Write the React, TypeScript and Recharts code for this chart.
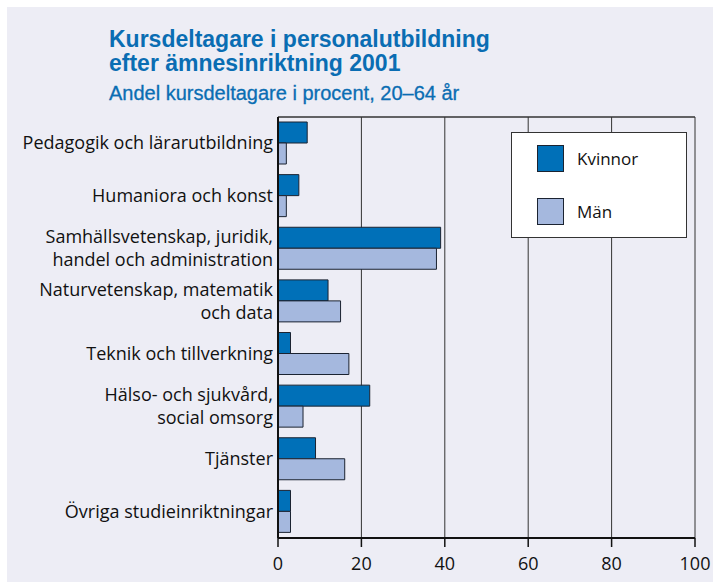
import React from 'react';
import { BarChart, Bar, XAxis, YAxis, CartesianGrid, Legend } from 'recharts';

const categories = [
  'Pedagogik och lärarutbildning',
  'Humaniora och konst',
  'Samhällsvetenskap, juridik,\nhandel och administration',
  'Naturvetenskap, matematik\noch data',
  'Teknik och tillverkning',
  'Hälso- och sjukvård,\nsocial omsorg',
  'Tjänster',
  'Övriga studieinriktningar',
];

const kvinnor = [7, 5, 39, 12, 3, 22, 9, 3];
const man = [2, 2, 38, 15, 17, 6, 16, 3];

const xTicks = [0, 20, 40, 60, 80, 100];

const data = categories.map((name, i) => ({ name, kvinnor: kvinnor[i], man: man[i] }));

const BLUE = '#0070b8';
const LIGHT = '#a5b8de';
const EDGE = '#1b2331';
const BG = '#ededf5';
const TITLE = '#0a6db3';
const LABEL_FONT = '"Open Sans", "Noto Sans", sans-serif';

const CategoryTick = (props: any) => {
  const { x, y, payload } = props;
  const lines = String(payload.value).split('\n');
  const lh = 23;
  return (
    <text x={x} y={y} textAnchor="end" fill="#111" fontSize={18} fontFamily={LABEL_FONT}>
      {lines.map((line, i) => (
        <tspan key={i} x={x} y={y + (i - (lines.length - 1) / 2) * lh + 6}>
          {line}
        </tspan>
      ))}
    </text>
  );
};

const LegendBox = (props: any) => {
  const items = props.payload || [];
  return (
    <div
      style={{
        width: 174,
        height: 104,
        background: '#fff',
        border: '1px solid #333',
        position: 'relative',
        fontFamily: LABEL_FONT,
        fontSize: 17,
        color: '#111',
      }}
    >
      {items.map((it: any, i: number) => (
        <div
          key={it.value}
          style={{ position: 'absolute', left: 25, top: 12 + i * 53, display: 'flex', alignItems: 'center' }}
        >
          <div style={{ width: 25, height: 25, background: it.color, border: `1px solid ${EDGE}` }} />
          <span style={{ marginLeft: 13 }}>{it.value}</span>
        </div>
      ))}
    </div>
  );
};

export default function App() {
  return (
    <div
      style={{
        position: 'fixed',
        left: 7,
        top: 7,
        width: 706,
        height: 575,
        background: BG,
        overflow: 'hidden',
      }}
    >
      <div style={{ position: 'absolute', left: -7, top: -7, width: 713, height: 582 }}>
        <div
          style={{
            position: 'absolute',
            left: 109,
            top: 27,
            color: TITLE,
            fontFamily: '"Liberation Sans", Arial, sans-serif',
            fontWeight: 700,
            fontSize: 23,
            lineHeight: '24px',
            whiteSpace: 'nowrap',
          }}
        >
          <div>Kursdeltagare i personalutbildning</div>
          <div>efter ämnesinriktning 2001</div>
        </div>
        <div
          style={{
            position: 'absolute',
            left: 109,
            top: 82,
            color: TITLE,
            fontFamily: '"Liberation Sans", Arial, sans-serif',
            fontSize: 20,
            lineHeight: '22px',
            whiteSpace: 'nowrap',
            WebkitTextStroke: '0.3px ' + TITLE,
          }}
        >
          Andel kursdeltagare i procent, 20–64 år
        </div>
        <BarChart
          width={713}
          height={582}
          data={data}
          layout="vertical"
          margin={{ top: 116, right: 18, bottom: 0, left: 8 }}
          barGap={0}
          barCategoryGap={5}
        >
          <CartesianGrid horizontal={false} stroke="#333" strokeWidth={1} />
          <XAxis
            type="number"
            domain={[0, 100]}
            ticks={xTicks}
            interval={0}
            axisLine={{ stroke: '#111', strokeWidth: 2 }}
            tickLine={{ stroke: '#111', strokeWidth: 1.5 }}
            tickSize={9}
            tickMargin={10}
            tick={{ fill: '#111', fontSize: 18, fontFamily: LABEL_FONT }}
            height={44}
          />
          <XAxis
            xAxisId="top"
            orientation="top"
            type="number"
            domain={[0, 100]}
            axisLine={{ stroke: '#333', strokeWidth: 1.5 }}
            tick={false}
            tickLine={false}
            height={1}
          />
          <YAxis
            type="category"
            dataKey="name"
            width={270}
            axisLine={{ stroke: '#111', strokeWidth: 2 }}
            tickLine={false}
            tickSize={0}
            tickMargin={5}
            interval={0}
            tick={<CategoryTick />}
          />
          <Legend
            layout="horizontal"
            verticalAlign="middle"
            align="center"
            content={<LegendBox />}
            wrapperStyle={{ position: 'absolute', left: 511, top: 132, width: 176, height: 106 }}
          />
          <Bar dataKey="kvinnor" name="Kvinnor" fill={BLUE} stroke={EDGE} strokeWidth={1} barSize={21} isAnimationActive={false} />
          <Bar dataKey="man" name="Män" fill={LIGHT} stroke={EDGE} strokeWidth={1} barSize={21} isAnimationActive={false} />
        </BarChart>
      </div>
    </div>
  );
}
